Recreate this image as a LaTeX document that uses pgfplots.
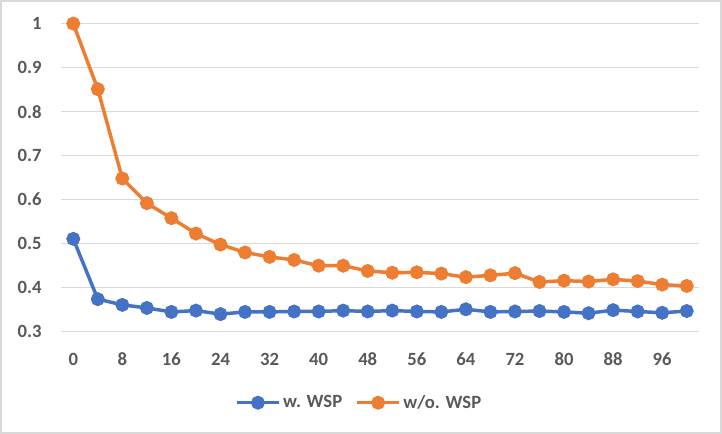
\documentclass[border=0pt]{standalone}
\usepackage{pgfplots}
\pgfplotsset{compat=1.18}
\usepackage{fontspec}
\setmainfont{Carlito}
\definecolor{wblue}{HTML}{4472C4}
\definecolor{worange}{HTML}{ED7D31}
\definecolor{gridc}{HTML}{D9D9D9}
\definecolor{txt}{HTML}{595959}
\begin{document}
\begin{tikzpicture}
\fill[white] (0pt,0pt) rectangle (541.5pt,325.5pt);
\draw[gridc, line width=0.9pt] (0.75pt,0.75pt) rectangle (540.75pt,324.75pt);
\begin{axis}[
  at={(45.75pt,76.7pt)}, anchor=south west,
  scale only axis,
  width=478.5pt, height=231.1pt,
  xmin=-2, xmax=102, ymin=0.3, ymax=1.0,
  xtick={0,8,...,96},
  ytick={0.3,0.4,...,1.0},
  yticklabels={0.3,0.4,0.5,0.6,0.7,0.8,0.9,1},
  axis line style={draw=none},
  major tick length=0pt,
  ymajorgrids,
  grid style={gridc, line width=0.75pt},
  tick label style={font=\fontsize{14}{16}\selectfont\bfseries, text=txt},
  xticklabel style={anchor=center, yshift=-20.7pt},
  yticklabel style={anchor=east, xshift=-11pt},
  /pgf/number format/assume math mode=true,
  legend columns=2,
  legend style={draw=none, fill=none, at={(0.468,-0.2304)}, anchor=center,
    font=\fontsize{14}{16}\selectfont\bfseries, text=txt,
    /tikz/every even column/.append style={column sep=8pt}},
  legend cell align=left,
  legend image code/.code={\draw[mark repeat=2,mark phase=2] plot coordinates {(0cm,0cm)(0.55cm,0cm)(1.1cm,0cm)};},
]
\addplot[wblue, line width=2.6pt, mark=*, mark size=3.9pt] coordinates {
(0,0.511)(4,0.374)(8,0.361)(12,0.354)(16,0.345)(20,0.348)(24,0.340)(28,0.345)
(32,0.345)(36,0.346)(40,0.346)(44,0.348)(48,0.346)(52,0.348)(56,0.346)(60,0.345)
(64,0.351)(68,0.345)(72,0.346)(76,0.347)(80,0.345)(84,0.342)(88,0.349)(92,0.346)
(96,0.343)(100,0.347)};
\addlegendentry{w. WSP}
\addplot[worange, line width=2.6pt, mark=*, mark size=3.9pt] coordinates {
(0,1.000)(4,0.851)(8,0.648)(12,0.592)(16,0.558)(20,0.523)(24,0.498)(28,0.480)
(32,0.470)(36,0.463)(40,0.450)(44,0.450)(48,0.438)(52,0.434)(56,0.435)(60,0.432)
(64,0.424)(68,0.428)(72,0.433)(76,0.413)(80,0.416)(84,0.414)(88,0.419)(92,0.415)
(96,0.407)(100,0.404)};
\addlegendentry{w/o. WSP}
\end{axis}
\end{tikzpicture}
\end{document}
